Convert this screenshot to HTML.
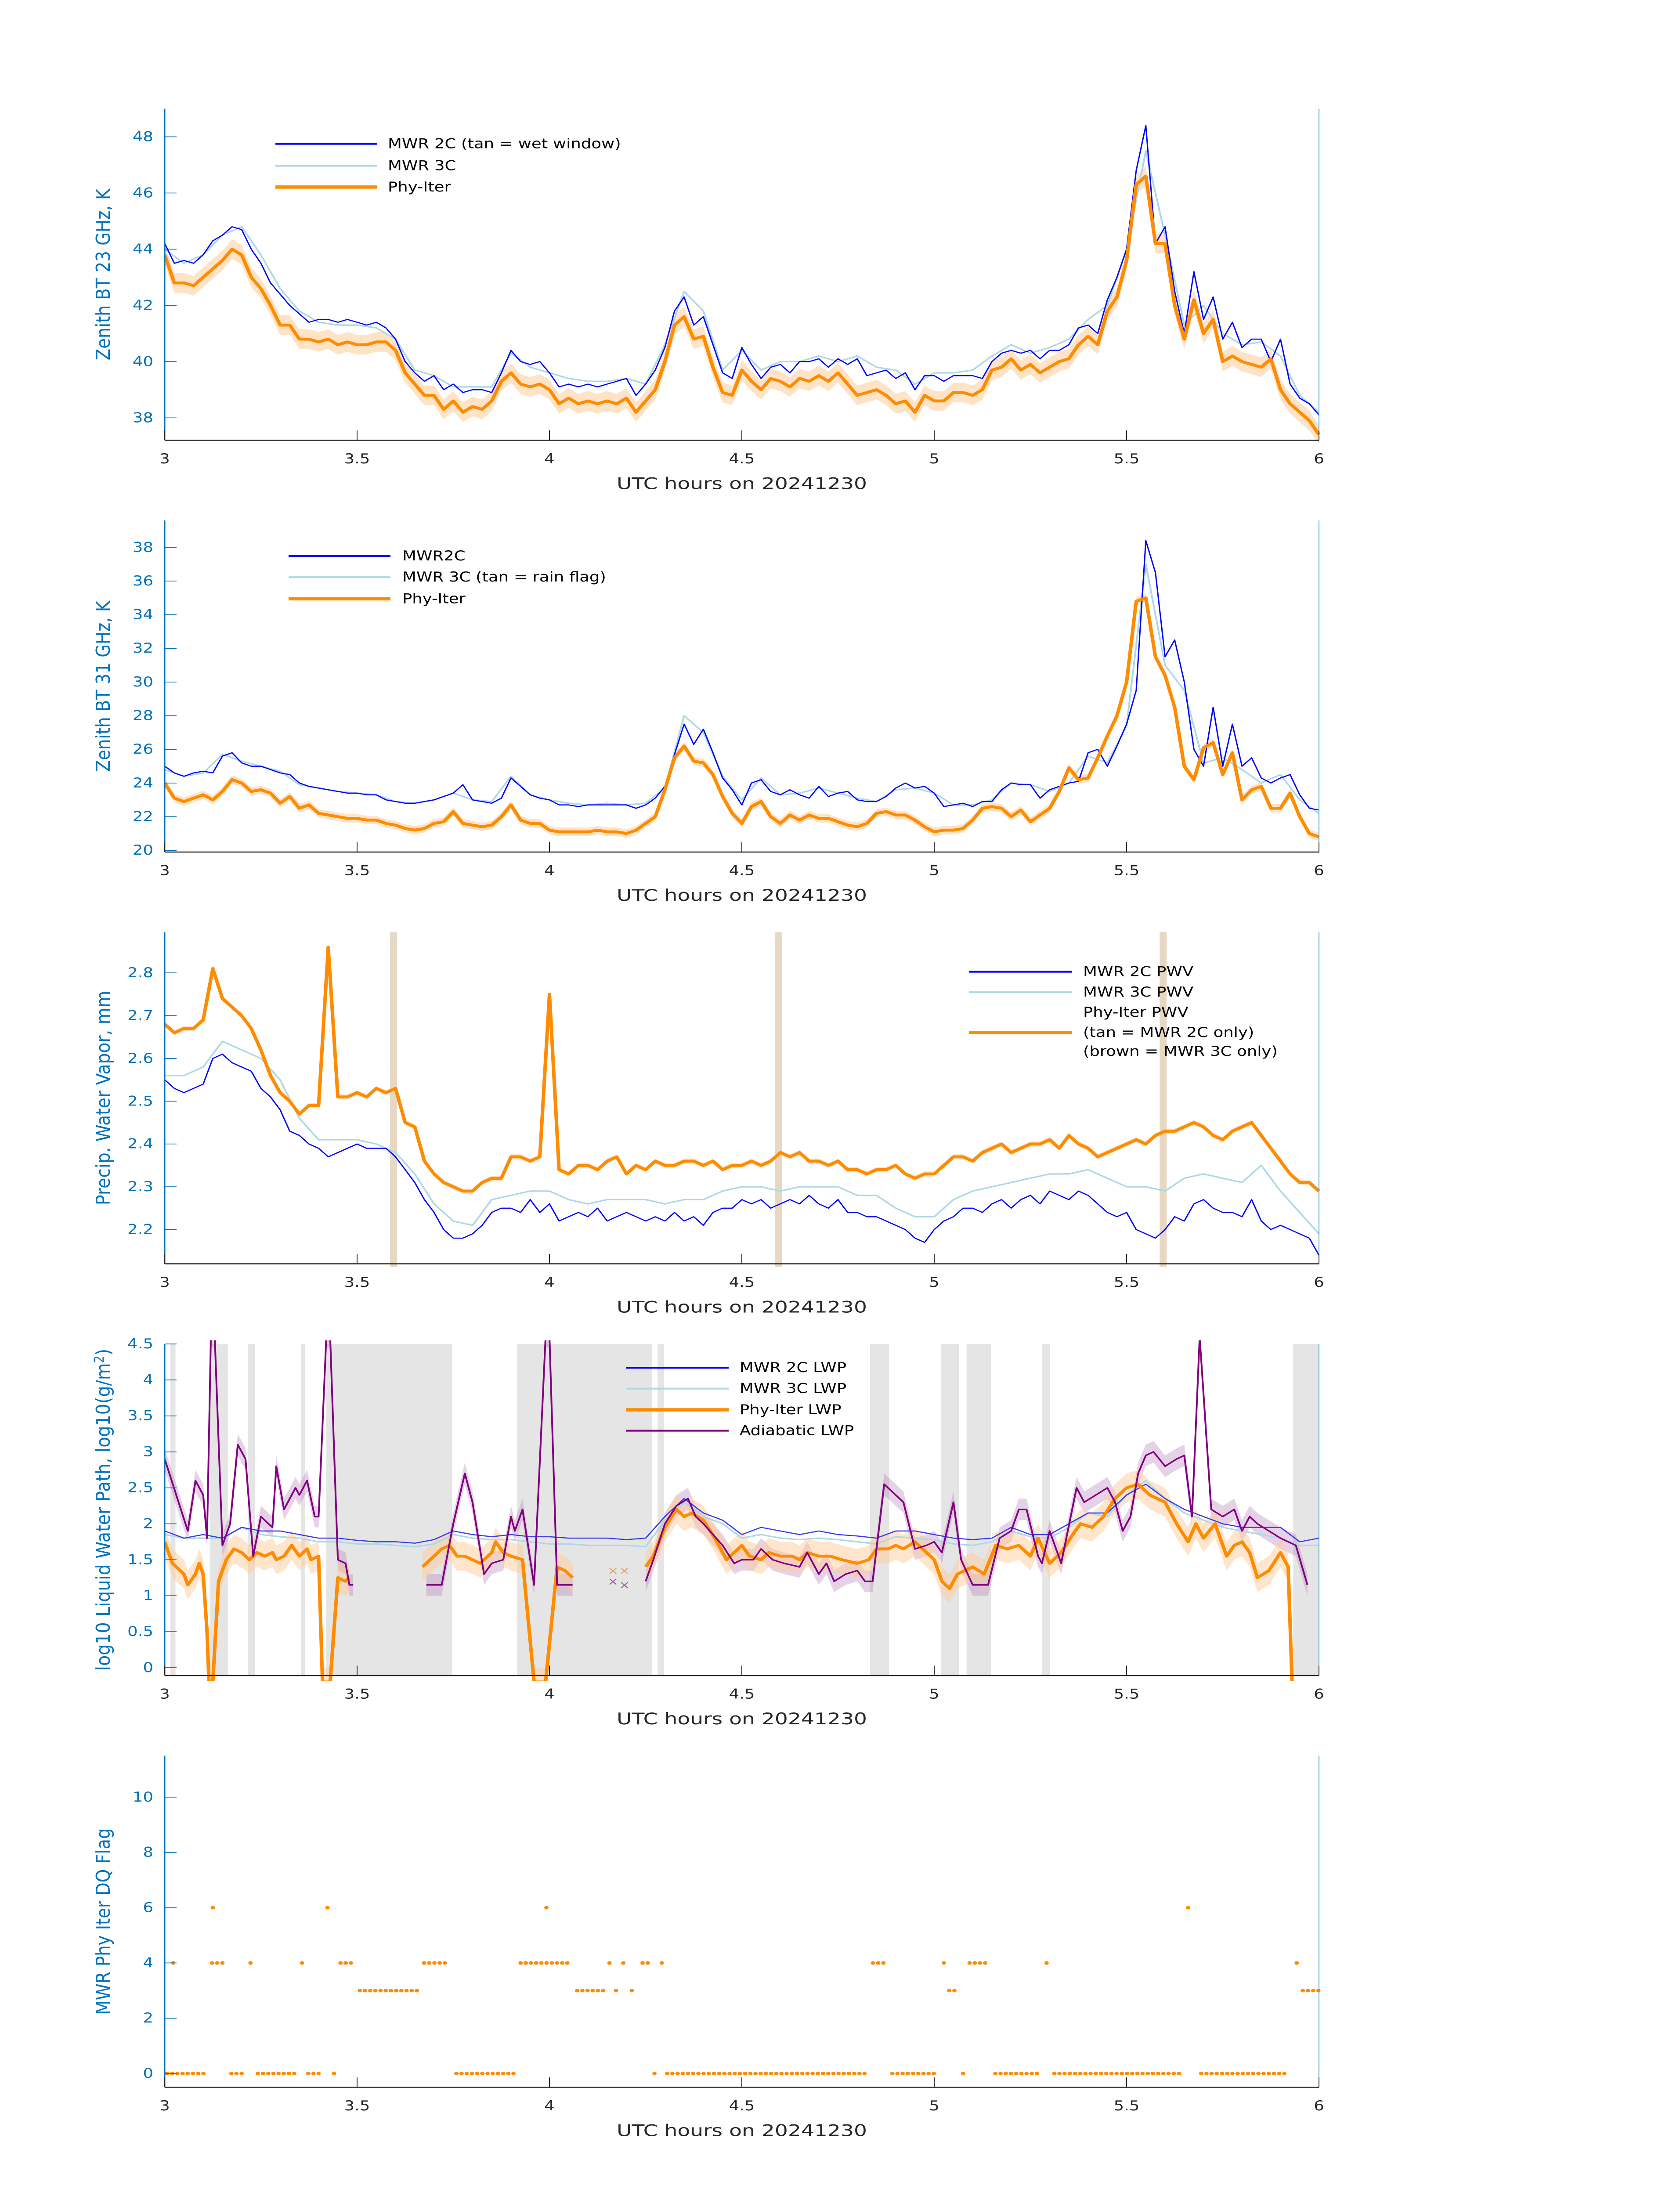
<!DOCTYPE html>
<html><head><meta charset="utf-8"><title>MWR retrieval comparison 20241230</title>
<style>
html,body{margin:0;padding:0;background:#fff;width:100%;height:100%;overflow:hidden;}
svg{display:block;width:100vw;height:100vh;font-family:"DejaVu Sans","Liberation Sans",sans-serif;}
.yt{fill:#0072BD;font-size:37px;text-anchor:end;dominant-baseline:central;}
.xt{fill:#262626;font-size:37px;text-anchor:middle;}
.xl{fill:#262626;font-size:44px;text-anchor:middle;}
.yl{fill:#0072BD;font-size:44px;text-anchor:middle;}
.lg{fill:#000;font-size:37px;dominant-baseline:central;}
</style></head>
<body>
<svg id="chart" viewBox="0 0 3825 6000" preserveAspectRatio="none" xmlns="http://www.w3.org/2000/svg">
<rect x="0" y="0" width="3825" height="6000" fill="#fff"/>
<g id="p0"></g>
<g id="p1"></g>
<g id="p2"></g>
<g id="p3"></g>
<g id="p4"></g>

<text class="yl" transform="translate(250,750) rotate(-90)" textLength="469" lengthAdjust="spacingAndGlyphs">Zenith BT 23 GHz, K</text>
<text class="yl" transform="translate(250,1875) rotate(-90)" textLength="467" lengthAdjust="spacingAndGlyphs">Zenith BT 31 GHz, K</text>
<text class="yl" transform="translate(250,3000) rotate(-90)" textLength="586" lengthAdjust="spacingAndGlyphs">Precip. Water Vapor, mm</text>
<text class="yl" transform="translate(250,4125) rotate(-90)" textLength="880" lengthAdjust="spacingAndGlyphs">log10 Liquid Water Path, log10(g/m<tspan dy="-14" font-size="30">2</tspan><tspan dy="14">)</tspan></text>
<text class="yl" transform="translate(250,5250) rotate(-90)" textLength="510" lengthAdjust="spacingAndGlyphs">MWR Phy Iter DQ Flag</text>

<text class="xl" x="1689" y="1336" textLength="570" lengthAdjust="spacingAndGlyphs">UTC hours on 20241230</text>
<text class="xl" x="1689" y="2461" textLength="570" lengthAdjust="spacingAndGlyphs">UTC hours on 20241230</text>
<text class="xl" x="1689" y="3586" textLength="570" lengthAdjust="spacingAndGlyphs">UTC hours on 20241230</text>
<text class="xl" x="1689" y="4711" textLength="570" lengthAdjust="spacingAndGlyphs">UTC hours on 20241230</text>
<text class="xl" x="1689" y="5836" textLength="570" lengthAdjust="spacingAndGlyphs">UTC hours on 20241230</text>

<g>
<g><line x1="627" y1="393" x2="859" y2="393" stroke="#0000ff" stroke-width="5"/><text class="lg" x="883" y="393">MWR 2C (tan = wet window)</text></g>
<g><line x1="627" y1="453" x2="859" y2="453" stroke="#add8e6" stroke-width="5"/><text class="lg" x="883" y="453">MWR 3C</text></g>
<g><line x1="627" y1="511" x2="859" y2="511" stroke="#ff8c00" stroke-width="9"/><text class="lg" x="883" y="511">Phy-Iter</text></g>
</g>
<g>
<g><line x1="657" y1="1519" x2="889" y2="1519" stroke="#0000ff" stroke-width="5"/><text class="lg" x="916" y="1519">MWR2C</text></g>
<g><line x1="657" y1="1577" x2="889" y2="1577" stroke="#add8e6" stroke-width="5"/><text class="lg" x="916" y="1577">MWR 3C (tan = rain flag)</text></g>
<g><line x1="657" y1="1636" x2="889" y2="1636" stroke="#ff8c00" stroke-width="9"/><text class="lg" x="916" y="1636">Phy-Iter</text></g>
</g>
<g>
<g><line x1="2206" y1="2655" x2="2441" y2="2655" stroke="#0000ff" stroke-width="5"/><text class="lg" x="2466" y="2655">MWR 2C PWV</text></g>
<g><line x1="2206" y1="2711" x2="2441" y2="2711" stroke="#add8e6" stroke-width="5"/><text class="lg" x="2466" y="2711">MWR 3C PWV</text></g>
<g><text class="lg" x="2466" y="2766">Phy-Iter PWV</text><line x1="2206" y1="2821" x2="2441" y2="2821" stroke="#ff8c00" stroke-width="9"/><text class="lg" x="2466" y="2821">(tan = MWR 2C only)</text><text class="lg" x="2466" y="2873">(brown = MWR 3C only)</text></g>
</g>
<g>
<g><line x1="1425" y1="3737" x2="1659" y2="3737" stroke="#0000ff" stroke-width="5"/><text class="lg" x="1684" y="3737">MWR 2C LWP</text></g>
<g><line x1="1425" y1="3794" x2="1659" y2="3794" stroke="#add8e6" stroke-width="5"/><text class="lg" x="1684" y="3794">MWR 3C LWP</text></g>
<g><line x1="1425" y1="3852" x2="1659" y2="3852" stroke="#ff8c00" stroke-width="9"/><text class="lg" x="1684" y="3852">Phy-Iter LWP</text></g>
<g><line x1="1425" y1="3909" x2="1659" y2="3909" stroke="#800080" stroke-width="5"/><text class="lg" x="1684" y="3909">Adiabatic LWP</text></g>
</g>
</svg>

<script>
// ---------- data ----------
const xTicks = [3, 3.5, 4, 4.5, 5, 5.5, 6];
const xTickLabels = ["3", "3.5", "4", "4.5", "5", "5.5", "6"];
const t25 = Array.from({length: 121}, (_, i) => 3 + i * 0.025);
const t50 = Array.from({length: 61}, (_, i) => 3 + i * 0.05);

// Panel 1: 23 GHz BT
const bt23Ticks = [38, 40, 42, 44, 46, 48];
const bt23_2c = [44.2,43.5,43.6,43.5,43.8,44.3,44.5,44.8,44.7,44.0,43.5,42.8,42.4,42.0,41.7,41.4,41.5,41.5,41.4,41.5,41.4,41.3,41.4,41.2,40.8,40.0,39.6,39.3,39.5,39.0,39.2,38.9,39.0,39.0,38.9,39.6,40.4,40.0,39.9,40.0,39.6,39.1,39.2,39.1,39.2,39.1,39.2,39.3,39.4,38.8,39.2,39.7,40.5,41.8,42.3,41.3,41.6,40.6,39.6,39.4,40.5,39.9,39.4,39.8,39.9,39.6,40.0,40.0,40.1,39.8,40.1,39.9,40.1,39.5,39.6,39.7,39.4,39.6,39.0,39.5,39.5,39.3,39.5,39.5,39.5,39.4,40.0,40.3,40.4,40.3,40.4,40.1,40.4,40.4,40.6,41.2,41.3,41.0,42.2,43.0,44.0,46.8,48.4,44.2,44.8,42.5,41.0,43.2,41.5,42.3,40.8,41.4,40.5,40.8,40.8,40.0,40.8,39.2,38.7,38.5,38.1];
const bt23_3c = [44.0,43.5,43.8,44.5,44.8,43.8,42.6,41.8,41.4,41.3,41.3,41.2,40.8,39.7,39.5,39.1,39.1,39.1,40.3,39.8,39.6,39.4,39.3,39.3,39.4,39.2,40.6,42.5,41.8,39.7,40.4,39.7,40.0,40.0,40.2,40.0,40.2,39.8,39.7,39.2,39.6,39.6,39.7,40.2,40.6,40.3,40.5,40.8,41.5,42.0,44.0,47.5,44.5,41.3,42.0,41.0,40.6,40.7,40.2,38.8,38.2];
const bt23_phy = [43.8,42.8,42.8,42.7,43.0,43.3,43.6,44.0,43.8,43.0,42.6,42.0,41.3,41.3,40.8,40.8,40.7,40.8,40.6,40.7,40.6,40.6,40.7,40.7,40.4,39.6,39.2,38.8,38.8,38.3,38.6,38.2,38.4,38.3,38.6,39.3,39.6,39.2,39.1,39.2,39.0,38.5,38.7,38.5,38.6,38.5,38.6,38.5,38.7,38.2,38.6,39.0,40.0,41.3,41.6,40.8,40.9,39.8,38.9,38.8,39.7,39.3,39.0,39.4,39.3,39.1,39.4,39.3,39.5,39.3,39.6,39.2,38.8,38.9,39.0,38.8,38.5,38.6,38.2,38.8,38.6,38.6,38.9,38.9,38.8,39.0,39.7,39.8,40.1,39.7,39.9,39.6,39.8,40.0,40.1,40.6,40.9,40.6,41.8,42.3,43.6,46.3,46.6,44.2,44.2,42.0,40.8,42.2,41.0,41.5,40.0,40.2,40.0,39.9,39.8,40.1,39.0,38.5,38.2,37.9,37.4];
const bt23_sigma = 0.35;

// Panel 2: 31 GHz BT
const bt31Ticks = [20, 22, 24, 26, 28, 30, 32, 34, 36, 38];
const bt31_2c = [25.0,24.6,24.4,24.6,24.7,24.6,25.6,25.8,25.2,25.0,25.0,24.8,24.6,24.5,24.0,23.8,23.7,23.6,23.5,23.4,23.4,23.3,23.3,23.0,22.9,22.8,22.8,22.9,23.0,23.2,23.4,23.9,23.0,22.9,22.8,23.1,24.3,23.8,23.3,23.1,23.0,22.7,22.7,22.6,22.7,22.7,22.7,22.7,22.7,22.5,22.7,23.1,23.8,25.7,27.5,26.3,27.2,25.8,24.3,23.6,22.7,24.0,24.2,23.5,23.3,23.6,23.3,23.1,23.8,23.2,23.4,23.5,23.0,22.9,22.9,23.2,23.7,24.0,23.7,23.8,23.4,22.6,22.7,22.8,22.6,22.9,22.9,23.6,24.0,23.9,23.9,23.1,23.6,23.8,24.0,24.1,25.8,26.0,25.0,26.2,27.5,29.5,38.4,36.5,31.5,32.5,30.0,26.0,25.0,28.5,25.0,27.5,25.0,25.5,24.3,24.0,24.3,24.5,23.3,22.5,22.4];
const bt31_3c = [24.8,24.4,24.6,25.7,25.3,25.0,24.7,23.9,23.7,23.5,23.4,23.3,22.9,22.8,23.0,23.4,23.0,22.9,24.4,23.3,23.0,22.8,22.7,22.8,22.7,22.8,23.7,28.0,27.0,24.4,23.0,24.3,23.3,23.4,23.7,23.4,23.1,22.9,23.6,23.7,23.4,22.7,22.7,23.0,24.0,23.9,23.5,24.0,25.6,25.2,27.4,37.0,31.0,29.5,25.2,25.5,24.8,24.0,24.5,23.0,22.2];
const bt31_phy = [24.0,23.1,22.9,23.1,23.3,23.0,23.5,24.2,24.0,23.5,23.6,23.4,22.8,23.2,22.5,22.7,22.2,22.1,22.0,21.9,21.9,21.8,21.8,21.6,21.5,21.3,21.2,21.3,21.6,21.7,22.3,21.6,21.5,21.4,21.5,22.0,22.7,21.8,21.6,21.6,21.2,21.1,21.1,21.1,21.1,21.2,21.1,21.1,21.0,21.2,21.6,22.0,23.6,25.5,26.2,25.3,25.2,24.5,23.2,22.2,21.6,22.6,22.9,22.0,21.6,22.1,21.8,22.1,21.9,21.9,21.7,21.5,21.4,21.6,22.2,22.3,22.1,22.1,21.8,21.4,21.1,21.2,21.2,21.3,21.8,22.5,22.6,22.5,22.0,22.4,21.7,22.1,22.5,23.5,24.9,24.2,24.3,25.5,26.8,28.0,30.0,34.8,35.0,31.5,30.4,28.5,25.0,24.2,26.1,26.4,24.5,25.8,23.0,23.6,23.8,22.5,22.5,23.4,22.0,21.0,20.8];
const bt31_sigma = 0.25;

// Panel 3: PWV
const pwvTicks = [2.2, 2.3, 2.4, 2.5, 2.6, 2.7, 2.8];
const pwv_2c = [2.55,2.53,2.52,2.53,2.54,2.60,2.61,2.59,2.58,2.57,2.53,2.51,2.48,2.43,2.42,2.40,2.39,2.37,2.38,2.39,2.40,2.39,2.39,2.39,2.37,2.34,2.31,2.27,2.24,2.20,2.18,2.18,2.19,2.21,2.24,2.25,2.25,2.24,2.27,2.24,2.26,2.22,2.23,2.24,2.23,2.25,2.22,2.23,2.24,2.23,2.22,2.23,2.22,2.24,2.22,2.23,2.21,2.24,2.25,2.25,2.27,2.26,2.27,2.25,2.26,2.27,2.26,2.28,2.26,2.25,2.27,2.24,2.24,2.23,2.23,2.22,2.21,2.20,2.18,2.17,2.20,2.22,2.23,2.25,2.25,2.24,2.26,2.27,2.25,2.27,2.28,2.26,2.29,2.28,2.27,2.29,2.28,2.26,2.24,2.23,2.24,2.20,2.19,2.18,2.20,2.23,2.22,2.26,2.27,2.25,2.24,2.24,2.23,2.27,2.22,2.20,2.21,2.20,2.19,2.18,2.14];
const pwv_3c = [2.56,2.56,2.58,2.64,2.62,2.60,2.55,2.46,2.41,2.41,2.41,2.40,2.38,2.33,2.26,2.22,2.21,2.27,2.28,2.29,2.29,2.27,2.26,2.27,2.27,2.27,2.26,2.27,2.27,2.29,2.30,2.30,2.29,2.30,2.30,2.30,2.28,2.28,2.25,2.23,2.23,2.27,2.29,2.30,2.31,2.32,2.33,2.33,2.34,2.32,2.30,2.30,2.29,2.32,2.33,2.32,2.31,2.35,2.29,2.24,2.19];
const pwv_phy = [2.68,2.66,2.67,2.67,2.69,2.81,2.74,2.72,2.70,2.67,2.62,2.56,2.52,2.50,2.47,2.49,2.49,2.86,2.51,2.51,2.52,2.51,2.53,2.52,2.53,2.45,2.44,2.36,2.33,2.31,2.30,2.29,2.29,2.31,2.32,2.32,2.37,2.37,2.36,2.37,2.75,2.34,2.33,2.35,2.35,2.34,2.36,2.37,2.33,2.35,2.34,2.36,2.35,2.35,2.36,2.36,2.35,2.36,2.34,2.35,2.35,2.36,2.35,2.36,2.38,2.37,2.38,2.36,2.36,2.35,2.36,2.34,2.34,2.33,2.34,2.34,2.35,2.33,2.32,2.33,2.33,2.35,2.37,2.37,2.36,2.38,2.39,2.40,2.38,2.39,2.40,2.40,2.41,2.39,2.42,2.40,2.39,2.37,2.38,2.39,2.40,2.41,2.40,2.42,2.43,2.43,2.44,2.45,2.44,2.42,2.41,2.43,2.44,2.45,2.42,2.39,2.36,2.33,2.31,2.31,2.29];
const pwv_sigma = 0.006;
const tanTimes = [3.595, 4.595, 5.595];

// Panel 4: LWP
const lwpTicks = [0, 0.5, 1, 1.5, 2, 2.5, 3, 3.5, 4, 4.5];
const lwpTickLabels = ["0", "0.5", "1", "1.5", "2", "2.5", "3", "3.5", "4", "4.5"];
const grayStart = [3.015, 3.117, 3.217, 3.354, 3.42, 3.916, 4.281, 4.833, 5.017, 5.084, 5.281, 5.933];
const grayEnd   = [3.028, 3.164, 3.234, 3.365, 3.747, 4.267, 4.298, 4.883, 5.064, 5.148, 5.301, 6.0];
const lwp_2c = [1.9,1.8,1.85,1.8,1.95,1.9,1.9,1.85,1.8,1.8,1.77,1.75,1.75,1.73,1.78,1.9,1.85,1.82,1.85,1.82,1.82,1.8,1.8,1.8,1.78,1.8,2.1,2.35,2.15,2.05,1.85,1.95,1.9,1.85,1.9,1.85,1.83,1.8,1.9,1.9,1.85,1.8,1.78,1.8,1.95,1.85,1.85,2.0,2.15,2.15,2.4,2.55,2.35,2.2,2.1,2.0,1.95,1.95,1.95,1.75,1.8];
const lwp_3c = [1.85,1.8,1.8,1.8,1.95,1.85,1.82,1.8,1.75,1.75,1.72,1.72,1.7,1.68,1.72,1.85,1.8,1.78,1.78,1.75,1.72,1.72,1.7,1.7,1.7,1.68,2.05,2.3,2.1,2.0,1.8,1.85,1.8,1.78,1.8,1.78,1.75,1.72,1.82,1.8,1.78,1.72,1.7,1.75,1.9,1.82,1.8,1.95,2.15,2.1,2.4,2.6,2.35,2.15,2.05,1.95,1.9,1.85,1.8,1.7,1.7];
const lwpPhyTimes = [3.0,3.02,3.05,3.06,3.08,3.09,3.1,3.11,3.115,3.125,3.14,3.16,3.18,3.2,3.22,3.24,3.26,3.28,3.29,3.31,3.33,3.35,3.37,3.38,3.4,3.41,3.43,3.45,3.47,3.48,3.5,
  3.67,3.7,3.72,3.74,3.76,3.78,3.8,3.82,3.85,3.86,3.88,3.9,3.93,3.96,3.99,4.02,4.04,4.06,4.1,
  4.25,4.27,4.3,4.33,4.35,4.37,4.4,4.43,4.46,4.48,4.5,4.52,4.55,4.57,4.6,4.63,4.65,4.67,4.7,4.73,4.76,4.8,4.83,4.85,4.88,4.9,4.92,4.95,4.98,5.0,5.02,5.04,5.06,5.1,5.13,5.16,5.19,5.22,5.25,5.27,5.3,5.33,5.36,5.38,5.41,5.44,5.47,5.5,5.53,5.56,5.6,5.63,5.66,5.68,5.7,5.73,5.76,5.78,5.8,5.82,5.84,5.87,5.9,5.92,5.93];
const lwpPhyVals = [1.75,1.45,1.3,1.15,1.3,1.45,1.3,0.5,-0.2,-0.2,1.2,1.5,1.65,1.6,1.5,1.6,1.55,1.6,1.5,1.55,1.7,1.55,1.65,1.5,1.55,-0.2,-0.2,1.25,1.2,1.25,null,
  1.4,1.55,1.65,1.7,1.55,1.55,1.5,1.45,1.6,1.75,1.6,1.55,1.5,-0.2,-0.2,1.4,1.35,1.25,null,
  1.4,1.55,1.95,2.2,2.1,2.15,2.05,1.8,1.5,1.6,1.7,1.55,1.5,1.6,1.55,1.55,1.5,1.6,1.55,1.55,1.5,1.45,1.5,1.65,1.65,1.7,1.65,1.75,1.6,1.5,1.2,1.1,1.3,1.4,1.3,1.7,1.65,1.7,1.55,1.8,1.45,1.6,1.85,2.0,1.95,2.1,2.35,2.5,2.55,2.4,2.3,2.0,1.75,2.0,1.8,2.0,1.55,1.7,1.75,1.6,1.25,1.35,1.6,1.4,-0.2];
const lwpAdiTimes = [3.0,3.03,3.06,3.08,3.1,3.11,3.12,3.13,3.15,3.17,3.19,3.21,3.23,3.25,3.28,3.29,3.31,3.34,3.35,3.37,3.39,3.4,3.42,3.43,3.45,3.47,3.48,3.49,3.5,
  3.68,3.72,3.75,3.78,3.8,3.83,3.85,3.88,3.9,3.91,3.93,3.96,3.99,4.0,4.02,4.06,4.1,
  4.25,4.27,4.3,4.33,4.36,4.38,4.4,4.45,4.48,4.5,4.53,4.55,4.58,4.61,4.65,4.67,4.7,4.72,4.74,4.77,4.8,4.82,4.84,4.87,4.89,4.92,4.95,4.98,5.0,5.02,5.05,5.07,5.1,5.14,5.17,5.2,5.22,5.24,5.27,5.28,5.3,5.33,5.37,5.39,5.42,5.45,5.47,5.49,5.51,5.53,5.55,5.57,5.6,5.63,5.65,5.67,5.69,5.72,5.75,5.78,5.8,5.82,5.84,5.87,5.9,5.92,5.94,5.97];
const lwpAdiVals = [2.9,2.4,1.9,2.6,2.4,1.8,4.6,4.6,1.7,2.0,3.1,2.9,1.55,2.1,1.95,2.8,2.2,2.5,2.4,2.6,2.1,2.1,4.6,4.6,1.5,1.45,1.15,1.15,null,
  1.15,1.15,2.0,2.7,2.3,1.3,1.45,1.5,2.1,1.9,2.2,1.15,4.6,4.6,1.15,1.15,null,
  1.2,1.5,2.0,2.25,2.35,2.1,2.0,1.7,1.45,1.5,1.5,1.65,1.5,1.45,1.4,1.6,1.3,1.45,1.2,1.3,1.35,1.2,1.2,2.55,2.45,2.3,1.65,1.7,1.75,1.6,2.3,1.5,1.15,1.15,1.8,1.9,2.2,2.2,1.55,1.45,1.9,1.45,2.5,2.3,2.4,2.5,2.3,1.9,2.1,2.7,2.95,3.0,2.8,2.9,2.95,2.1,4.6,2.2,2.1,2.2,1.9,2.1,2.0,1.9,1.8,1.75,1.7,1.15];
const lwpPhySigma = 0.2;
const lwpAdiSigma = 0.15;
const markTimes = [4.165, 4.195];
const markPhyVals = [1.35, 1.35];
const markAdiVals = [1.2, 1.15];

// Panel 5: DQ flag (runs of samples at instrument cadence)
const flagTicks = [0, 2, 4, 6, 8, 10];
const flagCadence = 0.0135;
const runStart = [3.006,3.173,3.242,3.373,3.44,3.758,4.273,4.306,4.891,5.075,5.159,5.312,5.694, 3.022,3.123,3.223,3.357,3.457,3.674,3.925,4.156,4.192,4.242,4.292,4.841,5.025,5.092,5.292,5.942, 3.507,4.072,4.173,4.214,5.039,5.958, 3.125,3.423,3.992,5.66];
const runEnd   = [3.106,3.209,3.34,3.407,3.44,3.908,4.273,4.822,5.008,5.075,5.27,5.64,5.919, 3.022,3.156,3.223,3.357,3.49,3.741,4.056,4.156,4.192,4.259,4.292,4.875,5.025,5.139,5.292,5.942, 3.657,4.142,4.173,4.226,5.056,6.005, 3.125,3.423,3.992,5.671];
const runFlag  = [0,0,0,0,0,0,0,0,0,0,0,0,0, 4,4,4,4,4,4,4,4,4,4,4,4,4,4,4,4, 3,3,3,3,3,3, 6,6,6,6];

// ---------- drawing ----------
const NS = "http://www.w3.org/2000/svg";
const X0 = 375, X1 = 3003, H = 906;
const tops = [297, 1422, 2547, 3672, 4797];
function sx(t) { return X0 + (t - 3) / 3 * (X1 - X0); }
function mk(tag, attrs, parent) {
  const e = document.createElementNS(NS, tag);
  for (const k in attrs) e.setAttribute(k, attrs[k]);
  parent.appendChild(e);
  return e;
}
function scaler(top, ymin, ymax) { return v => top + H - (v - ymin) / (ymax - ymin) * H; }
function segments(ts, vs) {
  const segs = []; let cur = [];
  for (let i = 0; i < ts.length; i++) {
    if (vs[i] === null || vs[i] === undefined) { if (cur.length) segs.push(cur); cur = []; }
    else cur.push([ts[i], vs[i]]);
  }
  if (cur.length) segs.push(cur);
  return segs;
}
function drawLine(g, ts, vs, sy, color, w, name) {
  segments(ts, vs).forEach(seg => {
    const pts = seg.map(p => sx(p[0]).toFixed(1) + "," + sy(p[1]).toFixed(1)).join(" ");
    const pl = mk("polyline", {points: pts, fill: "none", stroke: color, "stroke-width": w, "stroke-linejoin": "round"}, g);
    
    
  });
}
function drawBand(g, ts, vs, sig, sy, color, op, name) {
  segments(ts, vs).forEach(seg => {
    const up = seg.map(p => sx(p[0]).toFixed(1) + "," + sy(p[1] + sig).toFixed(1));
    const dn = seg.slice().reverse().map(p => sx(p[0]).toFixed(1) + "," + sy(p[1] - sig).toFixed(1));
    const pg = mk("polygon", {points: up.concat(dn).join(" "), fill: color, "fill-opacity": op, stroke: "none"}, g);
    
    
  });
}
function axes(idx, ymin, ymax, yTicks, yLabels) {
  const top = tops[idx], g = document.getElementById("p" + idx), sy = scaler(top, ymin, ymax);
  const bot = top + H;
  const cp = mk("clipPath", {id: "clip" + idx}, g);
  mk("rect", {x: X0, y: top - 10, width: X1 - X0 + 10, height: H + 25}, cp);
  const marks = mk("g", {"clip-path": "url(#clip" + idx + ")"}, g);
  const ax = mk("g", {}, g);
  const ls = mk("line", {x1: X0, y1: top, x2: X0, y2: bot, stroke: "#0072BD", "stroke-width": 3}, ax);
  
  
  const rs = mk("line", {x1: X1, y1: top, x2: X1, y2: bot, stroke: "#4aa3e0", "stroke-width": 2}, ax);
  
  
  const bs = mk("line", {x1: X0, y1: bot, x2: X1, y2: bot, stroke: "#262626", "stroke-width": 3}, ax);
  
  
  xTicks.forEach((t, i) => {
    const tk = mk("line", {x1: sx(t), y1: bot, x2: sx(t), y2: bot - 27, stroke: "#262626", "stroke-width": 2}, ax);
    
    
    const tx = mk("text", {x: sx(t), y: bot + 63, class: "xt"}, ax);
    tx.textContent = xTickLabels[i];
    
    
  });
  yTicks.forEach((v, i) => {
    const tk = mk("line", {x1: X0, y1: sy(v), x2: X0 + 27, y2: sy(v), stroke: "#0072BD", "stroke-width": 2}, ax);
    
    
    const tx = mk("text", {x: 349, y: sy(v), class: "yt"}, ax);
    tx.textContent = yLabels ? yLabels[i] : String(v);
    
    
  });
  return {marks, sy};
}

(function () {
  const {marks, sy} = axes(0, 37.2, 49.0, bt23Ticks);
  drawBand(marks, t25, bt23_phy, bt23_sigma, sy, "#ffcc99", 0.55, "phy-iter-uncertainty-band");
  drawLine(marks, t50, bt23_3c, sy, "#add8e6", 4, "mwr3c-line");
  drawLine(marks, t25, bt23_2c, sy, "#0000ff", 3, "mwr2c-line");
  drawLine(marks, t25, bt23_phy, sy, "#ff8c00", 8, "phy-iter-line");
})();
(function () {
  const {marks, sy} = axes(1, 19.9, 39.6, bt31Ticks);
  drawBand(marks, t25, bt31_phy, bt31_sigma, sy, "#ffcc99", 0.55, "phy-iter-uncertainty-band");
  drawLine(marks, t50, bt31_3c, sy, "#add8e6", 4, "mwr3c-line");
  drawLine(marks, t25, bt31_2c, sy, "#0000ff", 3, "mwr2c-line");
  drawLine(marks, t25, bt31_phy, sy, "#ff8c00", 8, "phy-iter-line");
})();
(function () {
  const {marks, sy} = axes(2, 2.12, 2.895, pwvTicks);
  tanTimes.forEach(t => {
    const r = mk("rect", {x: sx(t) - 8, y: tops[2], width: 16, height: H + 8, fill: "#e6d8c3"}, marks);
    
    
  });
  drawBand(marks, t25, pwv_phy, pwv_sigma, sy, "#ffcc99", 0.55, "phy-iter-uncertainty-band");
  drawLine(marks, t50, pwv_3c, sy, "#add8e6", 4, "mwr3c-pwv-line");
  drawLine(marks, t25, pwv_2c, sy, "#0000ff", 3, "mwr2c-pwv-line");
  drawLine(marks, t25, pwv_phy, sy, "#ff8c00", 8, "phy-iter-pwv-line");
})();
(function () {
  const {marks, sy} = axes(3, -0.11, 4.5, lwpTicks, lwpTickLabels);
  grayStart.forEach((s, i) => {
    const r = mk("rect", {x: sx(s), y: tops[3], width: sx(grayEnd[i]) - sx(s), height: H, fill: "#e5e5e5"}, marks);
    
    
  });
  drawBand(marks, lwpAdiTimes, lwpAdiVals, lwpAdiSigma, sy, "#b77fb7", 0.35, "adiabatic-uncertainty-band");
  drawBand(marks, lwpPhyTimes, lwpPhyVals, lwpPhySigma, sy, "#ffcc99", 0.5, "phy-iter-uncertainty-band");
  drawLine(marks, t50, lwp_3c, sy, "#add8e6", 4, "mwr3c-lwp-line");
  drawLine(marks, t50, lwp_2c, sy, "#3a3af0", 3, "mwr2c-lwp-line");
  drawLine(marks, lwpPhyTimes, lwpPhyVals, sy, "#ff8c00", 8, "phy-iter-lwp-line");
  drawLine(marks, lwpAdiTimes, lwpAdiVals, sy, "#800080", 4, "adiabatic-lwp-line");
  markTimes.forEach((t, i) => {
    const a = mk("text", {x: sx(t), y: sy(markPhyVals[i]), fill: "#e8a060", "font-size": 30, "text-anchor": "middle", "dominant-baseline": "central"}, marks);
    a.textContent = "×";
    
    
    const b = mk("text", {x: sx(t), y: sy(markAdiVals[i]), fill: "#9a5aa0", "font-size": 30, "text-anchor": "middle", "dominant-baseline": "central"}, marks);
    b.textContent = "×";
    
    
  });
})();
(function () {
  const {marks, sy} = axes(4, -0.5, 11.5, flagTicks);
  runStart.forEach((s, i) => {
    for (let t = s; t <= runEnd[i] + 1e-6; t += flagCadence) {
      const d = mk("ellipse", {cx: sx(t), cy: sy(runFlag[i]), rx: 5, ry: 5, fill: "#ff8c00"}, marks);
      
      
    }
  });
})();
</script>
</body></html>
